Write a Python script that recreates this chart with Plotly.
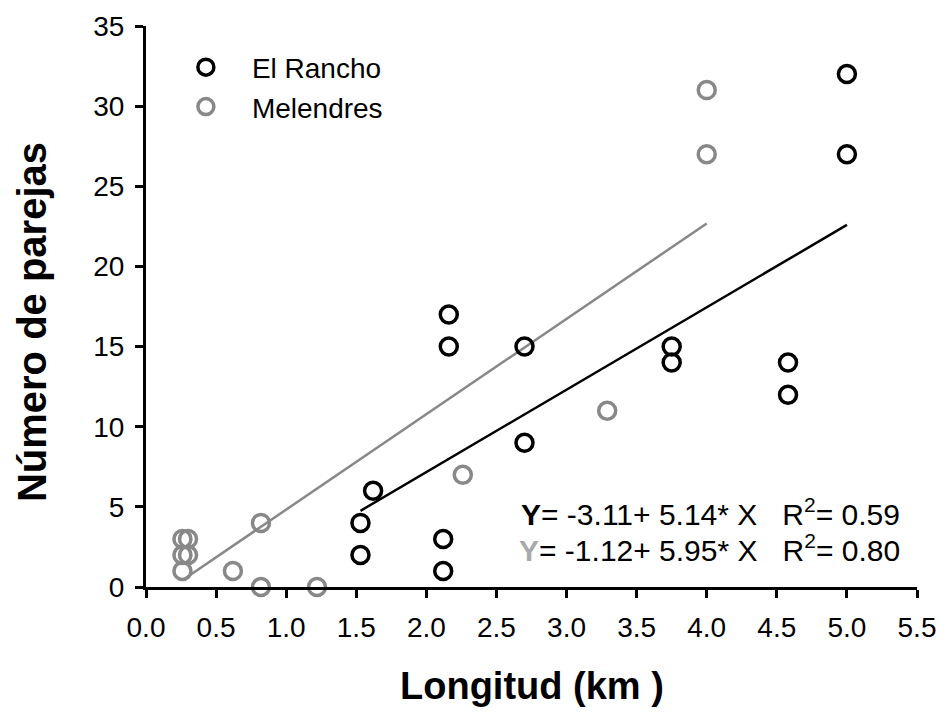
import plotly.graph_objects as go

# El Rancho
rancho_x = [1.53, 1.53, 1.62, 2.12, 2.12, 2.16, 2.16, 2.70, 2.70, 3.75, 3.75, 4.58, 4.58, 5.0, 5.0]
rancho_y = [4, 2, 6, 3, 1, 17, 15, 15, 9, 15, 14, 14, 12, 32, 27]
# Melendres
mel_x = [0.26, 0.26, 0.30, 0.26, 0.30, 0.62, 0.82, 0.82, 1.22, 2.26, 3.29, 4.0, 4.0]
mel_y = [1, 3, 3, 2, 2, 1, 4, 0, 0, 7, 11, 27, 31]

rancho_fit = (-3.11, 5.14, 0.59)
mel_fit = (-1.12, 5.95, 0.80)

x_ticks = [0.0, 0.5, 1.0, 1.5, 2.0, 2.5, 3.0, 3.5, 4.0, 4.5, 5.0, 5.5]
y_ticks = [0, 5, 10, 15, 20, 25, 30, 35]

x_title = "Longitud (km )"
y_title = "Número de parejas"

BLACK = "#000000"
GRAY = "#888888"

fig = go.Figure()

def fit_line(xs, fit):
    x0, x1 = min(xs), max(xs)
    return [x0, x1], [fit[0] + fit[1] * x0, fit[0] + fit[1] * x1]

lx, ly = fit_line(mel_x, mel_fit)
fig.add_trace(go.Scatter(x=lx, y=ly, mode="lines", line=dict(color=GRAY, width=2.5),
                         showlegend=False, hoverinfo="skip"))
lx, ly = fit_line(rancho_x, rancho_fit)
fig.add_trace(go.Scatter(x=lx, y=ly, mode="lines", line=dict(color=BLACK, width=2.5),
                         showlegend=False, hoverinfo="skip"))

fig.add_trace(go.Scatter(x=rancho_x, y=rancho_y, mode="markers", name="El Rancho",
                         marker=dict(symbol="circle-open", size=17, color=BLACK,
                                     line=dict(width=3.5, color=BLACK)),
                         cliponaxis=False))
fig.add_trace(go.Scatter(x=mel_x, y=mel_y, mode="markers", name="Melendres",
                         marker=dict(symbol="circle-open", size=17, color=GRAY,
                                     line=dict(width=3.5, color=GRAY)),
                         cliponaxis=False))

FONT = "Liberation Sans, Arial, sans-serif"

fig.add_annotation(x=5.39, y=4.65, xref="x", yref="y", xanchor="right", yanchor="middle",
                   showarrow=False,
                   text="<b>Y</b>= %.2f+ %.2f* X   R<sup>2</sup>= %.2f" % rancho_fit,
                   font=dict(family=FONT, size=30, color=BLACK))
fig.add_annotation(x=5.39, y=2.45, xref="x", yref="y", xanchor="right", yanchor="middle",
                   showarrow=False,
                   text="<b><span style='color:#aaaaaa'>Y</span></b>= %.2f+ %.2f* X   R<sup>2</sup>= %.2f" % mel_fit,
                   font=dict(family=FONT, size=30, color=BLACK))

# axis titles
fig.add_annotation(x=0.5, y=-0.2175, xref="paper", yref="paper", xanchor="center", yanchor="bottom",
                   showarrow=False, text="<b>%s</b>" % x_title,
                   font=dict(family=FONT, size=38, color=BLACK))
fig.add_annotation(x=-0.148, y=0.472, xref="paper", yref="paper", xanchor="center", yanchor="middle",
                   showarrow=False, textangle=-90, text="<b>%s</b>" % y_title,
                   font=dict(family=FONT, size=40, color=BLACK))

fig.update_layout(
    width=930, height=703,
    margin=dict(l=138, r=21, t=18, b=124),
    paper_bgcolor="white", plot_bgcolor="white",
    font=dict(family=FONT, size=28, color=BLACK),
    legend=dict(x=0.018, y=0.9706, xanchor="left", yanchor="top",
                font=dict(size=28), bgcolor="rgba(0,0,0,0)",
                itemwidth=82, tracegroupgap=0),
    xaxis=dict(range=[0, 5.5], tickvals=x_ticks, ticktext=["%.1f" % v for v in x_ticks],
               showgrid=False, zeroline=False, showline=True, linecolor=BLACK, linewidth=3,
               ticks="outside", ticklen=8, tickwidth=3, tickcolor=BLACK,
               ticklabelstandoff=5, automargin=False),
    yaxis=dict(range=[0, 35], tickvals=y_ticks, showgrid=False, zeroline=False,
               showline=True, linecolor=BLACK, linewidth=3,
               ticks="outside", ticklen=8, tickwidth=3, tickcolor=BLACK,
               ticklabelstandoff=5, automargin=False),
)

fig.write_html("out.html")
